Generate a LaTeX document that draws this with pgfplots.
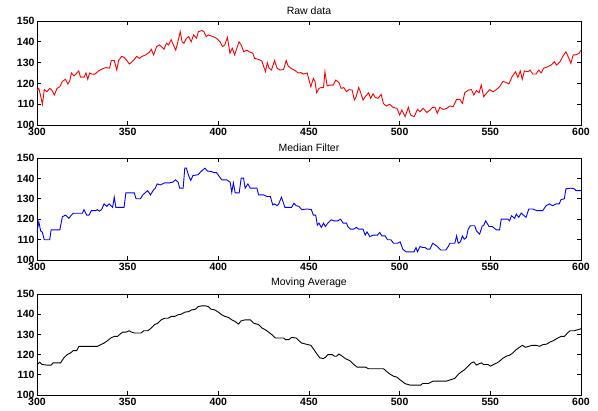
\documentclass[border=0pt]{standalone}
\usepackage{pgfplots}
\pgfplotsset{compat=1.18}
\usepackage{fontspec}
\setmainfont{Liberation Sans}
\pgfplotsset{
  sub/.style={
    scale only axis, width=544pt,
    xmin=300, xmax=600, ymin=100, ymax=150,
    xtick={300,350,...,600}, ytick={100,110,...,150},
    tick align=inside, major tick length=4pt,
    /pgf/number format/assume math mode=true,
    tick label style={font=\bfseries\fontsize{10.5}{11}\selectfont},
    xticklabel style={yshift=0pt},
    yticklabel style={xshift=1pt},
    title style={font=\fontsize{10.5}{11}\selectfont, yshift=-3pt},
    axis line style={line width=0.8pt},
    every tick/.style={line width=0.8pt, black},
  }
}
\begin{document}
\begin{tikzpicture}
\path[use as bounding box] (0,0) rectangle (598pt,411pt);
\begin{axis}[sub, at={(37pt,286pt)}, anchor=south west, height=104pt, title={Raw data}]
\addplot[red, line width=0.9pt] coordinates {
(300,116.5)(301,117.6)(302,114)(303,110)(304,117)(305.5,116)(307,117.6)(308,117)(309.6,114.4)(311,117.6)
(312.6,118.4)(314,121)(315.7,122)(317,119.7)(318,121)(319,125)(320.4,123.6)(322,125)(323,126)(324,123)
(326,123)(327,125)(328,122)(329,125)(330.5,124.4)(332,124.5)(334,126)(336,127)(338,127.6)(340,127.3)
(341,131)(342.6,131)(344,126.4)(345,131)(346.7,133)(348,132.5)(349,131.6)(351,129.3)(352.4,130.4)(353.7,131.6)
(355,133)(356.5,132)(358,133)(360,133.7)(362,135)(363,136.4)(364.3,133.7)(366,137.7)(367.5,138.5)(368.6,137.7)
(370,136.4)(371.4,139.3)(372.6,138.5)(374,141)(375.6,137.7)(376.5,136)(377.7,140)(379,144.9)(380,140)(381,139.3)
(382.4,141.7)(383.7,142.5)(385,140)(386.4,143.3)(388,141.7)(389,144.9)(391,145.4)(392,144.9)(393.3,142.5)(394.5,143.3)
(397,142.5)(399,141.7)(401,140)(402.3,137.7)(403.6,138.5)(405,142.1)(406.4,134.5)(407.7,136.9)(409,133.7)(410.5,137.7)
(411.4,140)(412.6,138.5)(414,135.2)(415.7,136)(417,135.2)(419,134.5)(420,132)(422,131.6)(424,130.8)(426,125.6)
(427,130)(428,127.3)(429.3,126.4)(431,131)(432.4,127.3)(434,126.4)(436,126.7)(437.4,131)(438.5,128.4)(440,127.3)
(442.6,126)(444,125)(445.4,125.2)(447,124.5)(449,125)(451,118.4)(452.4,122.4)(453.3,121)(454.2,115.5)(455.5,117.6)
(456.8,118)(458,118)(458.8,125.6)(460,118.8)(461.5,119.2)(463.3,119.2)(464.8,121.6)(466.5,120.4)(467.7,117.6)(469.2,118)
(470.7,116)(472,117)(473.8,116.8)(475,112)(476,113.6)(477.4,118)(478.3,116)(479.8,112)(481,113.6)(482.9,115.5)
(484,112.8)(485.3,115)(486.5,113.3)(488,112.8)(489.8,114.7)(491,110.4)(492.6,109.1)(494.4,110)(496.3,108.5)(498.5,108)
(500,104.8)(501.2,107.2)(503,104)(504.8,108.5)(506,104.8)(508,104)(509.8,107.5)(511.2,106.4)(513,108)(515,106)
(516.7,107.2)(518.2,108.5)(519.5,108.5)(520.7,105.6)(522.2,108.5)(524,107.5)(525.9,108)(527.7,109.1)(529.5,108.8)(531.4,112.3)
(533.2,112.3)(534.6,110.4)(535.9,115.5)(537.8,116.8)(539.6,117)(540.9,114.4)(542.3,116.5)(543.8,115.5)(545,119.2)(546.3,113.6)
(547.8,115.2)(549.6,117)(551.5,116)(553.3,117)(555.1,118.4)(557,121)(558.8,120.4)(560.2,119.7)(562,123.2)(563.9,125.6)
(565.2,122.9)(566.5,126)(567.6,122)(568.8,126)(570.7,125.6)(571.9,126.4)(573.4,124.5)(575.2,124.5)(576.7,126.4)(578,125)
(579.4,127.3)(581.6,128)(583.5,128.8)(585.3,130.4)(586.6,128.8)(588.4,130.4)(589.9,132.9)(591.7,135.2)(593.1,132.5)(594.4,129.6)
(595.7,133.7)(597.2,133.7)(599,134.5)(600,136)
};
\end{axis}
\begin{axis}[sub, at={(37pt,151pt)}, anchor=south west, height=102pt, title={Median Filter}]
\addplot[blue, line width=0.9pt] coordinates {
(300,113.5)(301,118.8)(302,114.3)(303,113.5)(304,109.9)(305.5,109.9)(307,109.9)(307.8,114.8)(310,114.8)(312.6,114.8)
(314,121.2)(315.7,122)(317.6,120.4)(318.9,122)(320,122.9)(322.2,122.9)(325,122.9)(325.9,124.7)(327.4,122)(328.7,122)
(330,124.2)(332.4,124.2)(333.3,124.7)(334.3,123.9)(335.6,124.7)(337,127.5)(338.5,126.3)(339.8,127.5)(341.7,125.8)(342.6,130.8)
(343.5,125.8)(345.4,125.8)(348,125.8)(349,132.9)(351,132.9)(353.7,132.9)(354.6,130)(357,130)(358.3,131.9)(360,133.2)
(361,134)(362.6,131.9)(364,134)(365.2,135.2)(366.3,137.3)(368,136.8)(370.4,137.8)(373,137.8)(375,138.2)(376.3,139.3)
(377.8,138.2)(378.7,135.2)(380.6,135.2)(381.5,145)(382.4,145)(383.7,141.1)(384.8,139)(386,141.4)(388.9,141.8)(390.4,143.4)
(392.6,145)(394,143.6)(396,143.4)(397.8,142.8)(399,142.8)(400.4,141.1)(401.9,139.3)(404.6,139.3)(406.5,138.2)(407.4,133.2)
(408.3,137.8)(409.3,132.9)(411.5,132.9)(412.6,140.1)(413.9,140.1)(414.8,135.2)(416.3,137.3)(417.6,135.2)(421.3,135.2)(422.2,131.9)
(425,131.9)(426.9,131.1)(428.7,131.1)(430,127)(431,127.5)(432.4,126.6)(433.3,127.5)(434.8,130.8)(436.7,125.8)(438.9,125.8)
(440.4,125.8)(441.7,127.8)(443,126.6)(444.4,126.3)(446,124.7)(449,125)(451.3,124.7)(452.4,122)(453.7,122)(454.6,117.1)
(455.5,118.1)(456.8,116)(458,118.1)(459,116.4)(460.4,118.1)(462.2,119.7)(463.7,119.2)(465.9,119.2)(467.4,120)(468.8,118.1)
(470.7,118.1)(471.4,116.4)(472.9,115.1)(474.7,115.1)(476.1,116)(477.4,115.1)(479.8,115.1)(481,112.2)(482,113.8)(483.5,111.5)
(485.6,112.2)(487.8,112.2)(489,113.5)(490.2,111.8)(492,111.8)(493.3,109.9)(495.2,109.9)(496.6,108.2)(498.8,108.2)(500.3,108.9)
(501.7,105.3)(503.6,104)(505.7,104)(507.9,104)(509,106.1)(509.8,104)(511.2,106.6)(512.7,106.1)(514,106.1)(515.3,105.3)
(516.7,105.3)(518.2,108.2)(519,107.7)(520.4,106.9)(522.6,104.9)(525.5,104.9)(526.8,106.6)(527.7,108.2)(530.4,108.2)(531.4,111.8)
(532.3,108.2)(533.5,108.9)(534.6,111.8)(535.6,110.2)(536.8,111)(537.8,115.1)(539,116.8)(541.4,116.8)(542.3,114.3)(544.1,112.7)
(545.6,116.8)(546.3,116.8)(547.4,119.2)(549.3,116.4)(551.1,116.4)(553.3,114.8)(555.1,114.8)(556,120)(559.7,120)(560.6,119.2)
(561.7,121.7)(563.4,120.4)(564.3,122.5)(565.7,120.9)(567,123)(569.7,120.9)(571.2,125)(573.4,125)(575.6,124.2)(578.9,124.2)
(580.7,126.6)(582.6,127.5)(584.4,126.6)(586.2,127.5)(588,127.5)(589,129.6)(590.8,130)(591.7,134.9)(594.4,135.2)(596.3,134.9)
(597.2,134)(600,134)
};
\end{axis}
\begin{axis}[sub, at={(37pt,16pt)}, anchor=south west, height=101pt, title={Moving Average}]
\addplot[black, line width=0.9pt] coordinates {
(300,115.1)(301.5,116.2)(302.8,115.1)(305.5,114.8)(307.8,114.8)(308.9,115.9)(311,115.9)(313,115.9)(314.8,118.4)(316.7,120)
(318.5,120.8)(320,122)(321.9,122)(323.1,124.1)(325.9,124.1)(329.6,124.1)(333.3,124.1)(335.2,124.9)(337,125.7)(338.9,126.9)
(340.7,128.2)(342.6,129)(344.4,129)(345.9,130.2)(347.2,131.1)(349,131.1)(350.9,131.8)(352.2,131.1)(353.7,130.7)(355.6,130.7)
(357.4,130.7)(358.9,131.8)(361.1,131.8)(363,133.1)(364.8,134.8)(366.7,135.6)(368.5,137.2)(370.4,138)(372.2,138)(374.1,138.9)
(375.9,138.9)(377.8,139.7)(379.6,140)(381.5,141)(383.7,141.3)(385.2,142.1)(387.4,142.5)(388.9,143.8)(390.7,144.1)(393,144.1)
(394.4,143.8)(395.9,142.5)(398.1,142.1)(400,141)(401.9,139.7)(403.7,138.9)(405.6,138.4)(407.4,137.2)(409.3,136.4)(411.1,135.1)
(412.6,136.7)(414.8,137.2)(417.6,137.2)(419.4,135.6)(422.2,134.8)(424.1,133.1)(425.9,132.3)(427.8,131.1)(429.6,129.8)(431.5,128.2)
(433.3,128.2)(436.1,128.2)(437,127.4)(438.9,127.4)(440.4,128.5)(443,128.2)(444.4,126.9)(446,125.7)(448.2,125.2)(451,124.6)
(452.7,122.5)(454.6,120)(456,118.4)(457.9,118)(459.1,118.7)(460.4,120)(462.8,120)(464.1,119.2)(465.2,119.2)(466.5,120.3)
(468.3,119.2)(470.1,118)(472.5,117)(474.3,115.4)(476.5,113.8)(478.7,113.8)(481.1,113.8)(482.9,113)(484.7,113)(488.4,113)
(491.1,113)(492.6,111.8)(494.4,110.5)(496.6,109.3)(498.4,108.9)(499.9,107.7)(501.2,106.9)(503,105.6)(505.8,104.9)(508.5,104.9)
(511.6,104.9)(512.7,105.7)(515.8,105.7)(518.6,106.9)(522.2,106.9)(525.9,106.9)(528.6,107.7)(530.4,108.2)(532.3,110.2)(534.1,111.5)
(535.9,112.6)(537.8,114.3)(539.6,115.9)(540.9,116.4)(542.3,114.8)(543.6,115.4)(545.1,115.9)(546.3,115.1)(548.7,115.1)(550,114.3)
(551.8,115.1)(553.7,115.9)(555.1,116.7)(556.6,118)(558.8,119.2)(560.6,119.7)(562.4,120.8)(564.3,122.5)(566.1,123.6)(567.6,124.6)
(569.4,123.6)(571.2,124.1)(573,124.6)(575.2,124.6)(577.1,124.1)(578.9,124.9)(581.1,125.2)(582.9,126.2)(584.8,126.9)(586.6,127.9)
(589,129)(590.8,129)(592.6,130.7)(593.9,131.8)(596.3,131.8)(600,132.8)
};
\end{axis}
\end{tikzpicture}
\end{document}
